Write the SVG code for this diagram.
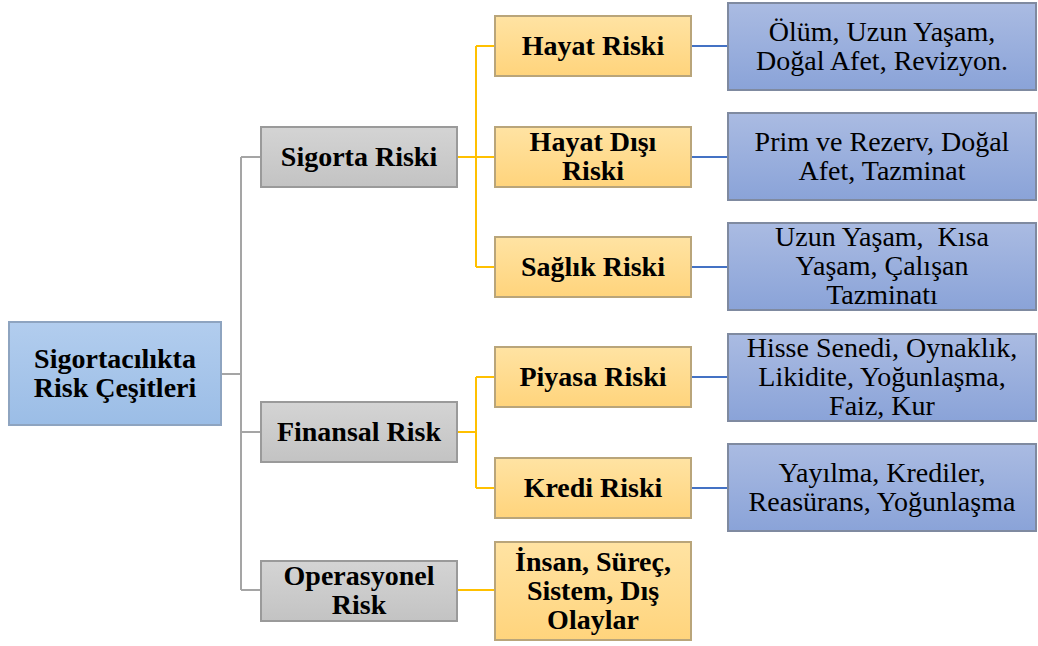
<svg xmlns="http://www.w3.org/2000/svg" width="1038" height="646" viewBox="0 0 1038 646">
<defs>
<linearGradient id="gRoot" x1="0" y1="0" x2="0" y2="1"><stop offset="0" stop-color="#b2cdee"/><stop offset="1" stop-color="#9bbde6"/></linearGradient>
<linearGradient id="gGray" x1="0" y1="0" x2="0" y2="1"><stop offset="0" stop-color="#d4d4d4"/><stop offset="1" stop-color="#c3c3c3"/></linearGradient>
<linearGradient id="gYel" x1="0" y1="0" x2="0" y2="1"><stop offset="0" stop-color="#ffe3a3"/><stop offset="1" stop-color="#ffd47c"/></linearGradient>
<linearGradient id="gBlue" x1="0" y1="0" x2="0" y2="1"><stop offset="0" stop-color="#aabbe2"/><stop offset="1" stop-color="#8aa3d8"/></linearGradient>
</defs>
<style>
.root{fill:url(#gRoot);stroke:#8ea4c0;stroke-width:2}
.gray{fill:url(#gGray);stroke:#9a9a9a;stroke-width:2}
.yel{fill:url(#gYel);stroke:#b9a57a;stroke-width:2}
.blue{fill:url(#gBlue);stroke:#7f8aa0;stroke-width:2}
text{font-family:"Liberation Serif","DejaVu Serif","Noto Serif",serif;font-size:28px;fill:#000;text-anchor:middle}
.b{font-weight:bold}
.cg{stroke:#a5a5a5;stroke-width:2;fill:none}
.cy{stroke:#ffc000;stroke-width:2;fill:none}
.cb{stroke:#4472c4;stroke-width:2;fill:none}
</style>
<g id="connectors">
<path class="cg" d="M221 374 H241 M241 157 V590 M241 157 H261 M241 432 H261 M241 590 H261"/>
<path class="cy" d="M457 157 H476 M476 46 V267 M476 46 H495 M476 157 H495 M476 267 H495"/>
<path class="cy" d="M457 432 H476 M476 377 V488 M476 377 H495 M476 488 H495"/>
<path class="cy" d="M457 590 H495"/>
<path class="cb" d="M691 46 H728 M691 157 H728 M691 267 H728 M691 377 H728 M691 488 H728"/>
</g>
<g id="root"><rect class="root" x="9" y="322" width="212" height="103"/>
<text class="b" x="115" y="368">Sigortacılıkta</text><text class="b" x="115" y="397">Risk Çeşitleri</text></g>
<g id="sigorta"><rect class="gray" x="261" y="127" width="196" height="60"/><text class="b" x="359" y="166">Sigorta Riski</text></g>
<g id="finansal"><rect class="gray" x="261" y="402" width="196" height="60"/><text class="b" x="359" y="441">Finansal Risk</text></g>
<g id="operasyonel"><rect class="gray" x="261" y="561" width="196" height="60"/><text class="b" x="359" y="585">Operasyonel</text><text class="b" x="359" y="614">Risk</text></g>
<g id="hayat"><rect class="yel" x="495" y="16" width="196" height="60"/><text class="b" x="593" y="55">Hayat Riski</text></g>
<g id="hayatdisi"><rect class="yel" x="495" y="127" width="196" height="60"/><text class="b" x="593" y="151">Hayat Dışı</text><text class="b" x="593" y="180">Riski</text></g>
<g id="saglik"><rect class="yel" x="495" y="237" width="196" height="60"/><text class="b" x="593" y="276">Sağlık Riski</text></g>
<g id="piyasa"><rect class="yel" x="495" y="347" width="196" height="60"/><text class="b" x="593" y="386">Piyasa Riski</text></g>
<g id="kredi"><rect class="yel" x="495" y="458" width="196" height="60"/><text class="b" x="593" y="497">Kredi Riski</text></g>
<g id="insan"><rect class="yel" x="495" y="542" width="196" height="98"/><text class="b" x="593" y="571">İnsan, Süreç,</text><text class="b" x="593" y="600">Sistem, Dış</text><text class="b" x="593" y="629">Olaylar</text></g>
<g id="hayatDetay"><rect class="blue" x="728" y="3" width="308" height="87"/><text x="882" y="41">Ölüm, Uzun Yaşam,</text><text x="882" y="70">Doğal Afet, Revizyon.</text></g>
<g id="hayatDisiDetay"><rect class="blue" x="728" y="113" width="308" height="87"/><text x="882" y="151">Prim ve Rezerv, Doğal</text><text x="882" y="180">Afet, Tazminat</text></g>
<g id="saglikDetay"><rect class="blue" x="728" y="223" width="308" height="87"/><text x="882" y="246" xml:space="preserve">Uzun Yaşam,  Kısa</text><text x="882" y="275">Yaşam, Çalışan</text><text x="882" y="304">Tazminatı</text></g>
<g id="piyasaDetay"><rect class="blue" x="728" y="334" width="308" height="87"/><text x="882" y="357">Hisse Senedi, Oynaklık,</text><text x="882" y="386">Likidite, Yoğunlaşma,</text><text x="882" y="415">Faiz, Kur</text></g>
<g id="krediDetay"><rect class="blue" x="728" y="444" width="308" height="87"/><text x="882" y="482">Yayılma, Krediler,</text><text x="882" y="511">Reasürans, Yoğunlaşma</text></g>
</svg>
